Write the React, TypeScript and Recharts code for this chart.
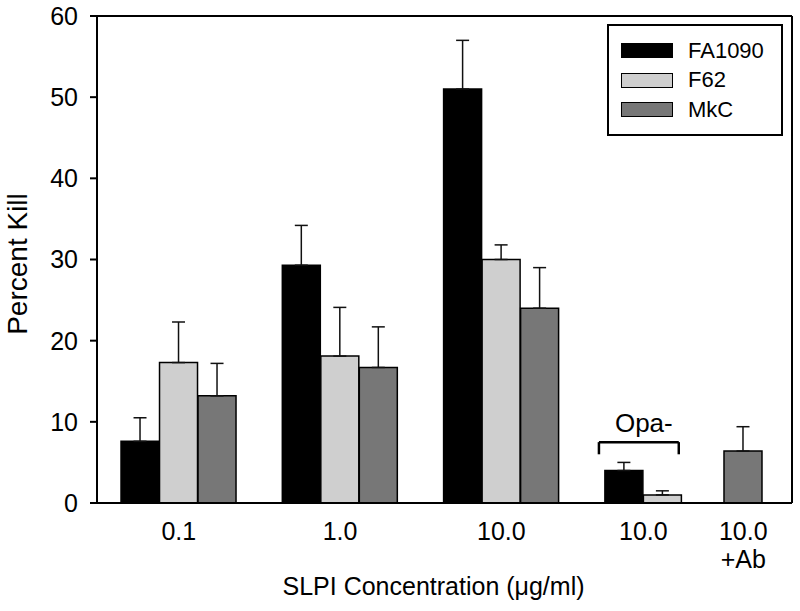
import React from 'react';
import { BarChart, Bar, Cell, XAxis, YAxis, ErrorBar, ReferenceLine, Legend, Label } from 'recharts';

// groups along the x axis (SLPI concentration)
const groupLabels = ['0.1', '1.0', '10.0', '10.0', '10.0\n+Ab'];
const seriesNames = ['FA1090', 'F62', 'MkC'];

// percent kill, one entry per group (null = not measured)
const fa1090 = [7.6, 29.3, 51.0, 4.0, null];
const fa1090Err = [2.9, 4.9, 6.0, 1.0, null];
const f62 = [17.3, 18.1, 30.0, 1.0, null];
const f62Err = [5.0, 6.0, 1.8, 0.5, null];
const mkc = [13.2, 16.7, 24.0, null, 6.4];
const mkcErr = [4.0, 5.0, 5.0, null, 3.0];

const yTicks = [0, 10, 20, 30, 40, 50, 60];

// layout in group units: group centres and the width of one bar
const GROUP_X = [1, 2, 3, 4, 4.261];
const BAR_W = 0.2387;
const X_DOMAIN: [number, number] = [0.493, 4.802];
const COLORS = ['#000000', '#cfcfcf', '#777777'];
const FONT = '"Liberation Sans", Arial, Helvetica, sans-serif';

// Opa- bracket over the fourth group
const OPA = { from: 3.605, to: 4.1, top: 7.5, foot: 6.0 };

const values = [fa1090, f62, mkc];
const errors = [fa1090Err, f62Err, mkcErr];

type Row = { x: number; value: number; err: [number, number]; series: number; group: number };

const rows: Row[] = [];
groupLabels.forEach((_, g) => {
  values.forEach((vals, s) => {
    const v = vals[g];
    if (v == null) return;
    rows.push({ x: GROUP_X[g] + (s - 1) * BAR_W, value: v, err: [0, errors[s][g] as number], series: s, group: g });
  });
});

// each label sits under the middle of the bars drawn for its group
const tickPositions = groupLabels.map((_, g) => {
  const xs = rows.filter(r => r.group === g).map(r => r.x);
  return xs.reduce((a, b) => a + b, 0) / xs.length;
});

const XTick = (props: any) => {
  const { x, y, payload } = props;
  const idx = tickPositions.findIndex(p => Math.abs(p - payload.value) < 1e-6);
  const lines = (groupLabels[idx] ?? '').split('\n');
  return (
    <text x={x} y={y} textAnchor="middle" fontSize={25} fill="#000" fontFamily={FONT}>
      {lines.map((line, i) => (
        <tspan key={i} x={x} dy={i === 0 ? 37 : 28}>{line}</tspan>
      ))}
    </text>
  );
};

const renderLegend = () => (
  <div
    style={{
      border: '2px solid #000',
      boxSizing: 'border-box',
      width: 176,
      height: 112,
      paddingTop: 10,
      paddingLeft: 12,
      background: '#fff',
      fontFamily: FONT,
    }}
  >
    {seriesNames.map((name, i) => (
      <div key={name} style={{ display: 'flex', alignItems: 'center', height: 29.5 }}>
        <span
          style={{
            display: 'inline-block',
            width: 52,
            height: 15,
            boxSizing: 'border-box',
            border: '1.5px solid #000',
            background: COLORS[i],
            marginRight: 15,
          }}
        />
        <span style={{ fontSize: 22, lineHeight: 1, color: '#000' }}>{name}</span>
      </div>
    ))}
  </div>
);

export default function App() {
  return (
    <div style={{ position: 'absolute', left: 0, top: 0, width: 800, height: 611, background: '#fff', fontFamily: FONT }}>
      <BarChart
        width={800}
        height={611}
        data={rows}
        margin={{ top: 16, right: 8, bottom: 0, left: 0 }}
        style={{ fontFamily: FONT }}
      >
        <XAxis
          dataKey="x"
          type="number"
          domain={X_DOMAIN}
          ticks={tickPositions}
          interval={0}
          height={108}
          tickLine={false}
          tickSize={0}
          tickMargin={0}
          tick={<XTick />}
          axisLine={{ stroke: '#000', strokeWidth: 2 }}
        >
          <Label
            content={(p: any) => {
              const vb = p.viewBox;
              return (
                <text x={vb.x + vb.width / 2 - 11} y={595} textAnchor="middle" fontSize={25} fill="#000" fontFamily={FONT}>
                  SLPI Concentration (μg/ml)
                </text>
              );
            }}
          />
        </XAxis>
        <YAxis
          type="number"
          domain={[0, 60]}
          ticks={yTicks}
          width={97}
          tickSize={7}
          tickMargin={12}
          tick={{ fontSize: 25, fill: '#000', fontFamily: FONT }}
          tickLine={{ stroke: '#000', strokeWidth: 2 }}
          axisLine={{ stroke: '#000', strokeWidth: 2 }}
        >
          <Label
            content={(p: any) => {
              const vb = p.viewBox;
              const cy = vb.y + vb.height / 2 + 4.5;
              return (
                <text x={27} y={cy} transform={`rotate(-90, 27, ${cy})`} textAnchor="middle" fontSize={28} fill="#000" fontFamily={FONT}>
                  Percent Kill
                </text>
              );
            }}
          />
        </YAxis>
        {/* frame: top and right edges */}
        <ReferenceLine y={60} stroke="#000" strokeWidth={2} ifOverflow="visible" />
        <ReferenceLine x={X_DOMAIN[1]} stroke="#000" strokeWidth={2} ifOverflow="visible" />
        <Bar dataKey="value" barSize={38} stroke="#000" strokeWidth={1.5} isAnimationActive={false}>
          {rows.map((r, i) => (
            <Cell key={`cell-${i}`} fill={COLORS[r.series]} />
          ))}
          <ErrorBar dataKey="err" direction="y" width={6.5} stroke="#111" strokeWidth={1.5} />
        </Bar>
        {/* Opa- bracket */}
        <ReferenceLine
          segment={[{ x: OPA.from, y: OPA.top }, { x: OPA.to, y: OPA.top }]}
          stroke="#000"
          strokeWidth={2.5}
        >
          <Label value="Opa-" position="top" offset={10} dx={5} fontSize={26} fill="#000" fontFamily={FONT} />
        </ReferenceLine>
        <ReferenceLine segment={[{ x: OPA.from, y: OPA.top }, { x: OPA.from, y: OPA.foot }]} stroke="#000" strokeWidth={2.5} />
        <ReferenceLine segment={[{ x: OPA.to, y: OPA.top }, { x: OPA.to, y: OPA.foot }]} stroke="#000" strokeWidth={2.5} />
        <Legend
          layout="vertical"
          align="center"
          verticalAlign="middle"
          content={renderLegend}
          wrapperStyle={{ position: 'absolute', left: 607, top: 24, width: 176, height: 112 }}
        />
      </BarChart>
    </div>
  );
}
